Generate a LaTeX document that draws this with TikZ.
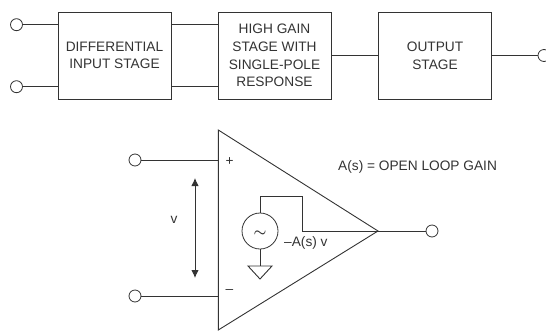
\documentclass[tikz,border=0pt]{standalone}
\usepackage{fontspec}
\setmainfont{Liberation Sans}
\usetikzlibrary{arrows.meta}
\definecolor{inkgray}{gray}{0.2}
\tikzset{
  blockbox/.style={draw=inkgray,line width=0.9pt,minimum width=113pt,minimum height=87pt,
    align=center,text=inkgray,font=\fontsize{13.7}{17.6}\selectfont,inner sep=0pt},
  term/.style={circle,draw=inkgray,line width=0.8pt,minimum size=12pt,inner sep=0pt},
  wire/.style={draw=inkgray,line width=0.9pt},
  lab/.style={text=inkgray,font=\fontsize{13.7}{15}\selectfont,inner sep=0pt}
}
\begin{document}
\begin{tikzpicture}[x=1pt,y=-1pt]
\useasboundingbox (0,0) rectangle (546,330);
% block diagram
\node[blockbox] (diff) at (114.5,55.5) {DIFFERENTIAL\\INPUT STAGE};
\node[blockbox] (gain) at (274.5,55.5) {HIGH GAIN\\STAGE WITH\\SINGLE-POLE\\RESPONSE};
\node[blockbox] (out) at (435,55.5) {OUTPUT\\STAGE};
\node[term] (ina) at (16.5,24.7) {};
\node[term] (inb) at (16.5,86.7) {};
\node[term] (outa) at (544,55.5) {};
\draw[wire] (ina) -- (ina -| diff.west);
\draw[wire] (inb) -- (inb -| diff.west);
\draw[wire] (ina -| diff.east) -- (ina -| gain.west);
\draw[wire] (inb -| diff.east) -- (inb -| gain.west);
\draw[wire] (gain) -- (out);
\draw[wire] (out) -- (outa);
% op amp
\coordinate (top) at (218.3,130);
\coordinate (bot) at (218.3,330);
\coordinate (tip) at (378,231);
\draw[wire,line join=miter] (top) -- (tip) -- (bot) -- cycle;
\node[term] (inp) at (135,160) {};
\node[term] (inn) at (135,296) {};
\node[term] (outb) at (432,231) {};
\draw[wire] (inp) -- (inp -| top);
\draw[wire] (inn) -- (inn -| top);
\draw[wire] (tip) -- (outb);
\node[lab] (plus) at (229.5,161.5) {+};
\node[lab] (minus) at (229.5,292) {–};
\coordinate (vtop) at (195,178);
\coordinate (vbot) at (195,278);
\draw[wire,{Latex[length=8pt,width=7.5pt]}-{Latex[length=8pt,width=7.5pt]}] (vtop) -- (vbot);
\node[lab] (vlab) at (174,220) {v};
% dependent source
\node[circle,draw=inkgray,line width=0.8pt,minimum size=36pt,inner sep=0pt] (src) at (260,231) {};
\node[text=inkgray,inner sep=0pt,font=\fontsize{14}{14}\selectfont\boldmath] (tilde) at (260,233.5) {$\sim$};
\coordinate (bend) at (302,196);
\draw[wire] (src.north) |- (bend) |- (tip);
\coordinate (gnd) at (260,266);
\coordinate (gndl) at (248,266);
\coordinate (gndr) at (272,266);
\coordinate (gnda) at (260,279);
\draw[wire] (src.south) -- (gnd);
\draw[wire,line join=miter] (gndl) -- (gndr) -- (gnda) -- cycle;
\node[lab,anchor=west] (gainlab) at (284,243) {–A(s) v};
\node[lab,anchor=west] (oplab) at (338,166.5) {A(s) = OPEN LOOP GAIN};
\end{tikzpicture}
\end{document}
